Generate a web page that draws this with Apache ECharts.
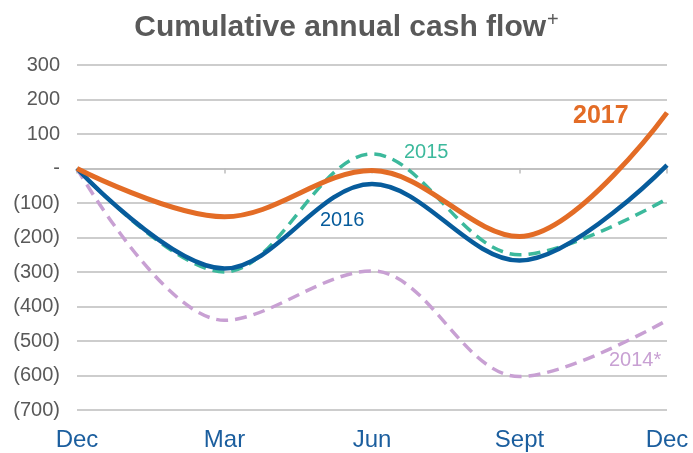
<!DOCTYPE html>
<html>
<head>
<meta charset="utf-8">
<script src="https://cdn.jsdelivr.net/npm/echarts@6/dist/echarts.min.js"></script>
<style>
html,body{margin:0;padding:0;background:#fff;}
#c{width:693px;height:453px;}
</style>
</head>
<body>
<div id="c"></div>
<script>
// Data
var categories = ['Dec', 'Mar', 'Jun', 'Sept', 'Dec'];
var cf2014 = [0, -440, -297, -603, -440];
var cf2015 = [0, -300, 42, -250, -88];
var cf2016 = [0, -290, -45, -267, 10];
var cf2017 = [0, -140, -6, -197, 162];
var yTicks = [300, 200, 100, 0, -100, -200, -300, -400, -500, -600, -700];

var FONT = 'Liberation Sans, Arial, sans-serif';
var chart = echarts.init(document.getElementById('c'), null, {renderer: 'canvas'});

function fmtY(v) {
  if (v === 0) return '-';
  if (v < 0) return '(' + Math.abs(v) + ')';
  return String(v);
}

var option = {
  backgroundColor: '#ffffff',
  animation: false,
  title: {
    text: '{a|Cumulative annual cash flow}{b|+}',
    left: 'center',
    top: 5,
    textStyle: {
      rich: {
        a: {fontFamily: FONT, fontWeight: 'bold', fontSize: 30, color: '#595959', lineHeight: 36},
        b: {fontFamily: FONT, fontWeight: 'normal', fontSize: 20, color: '#595959', verticalAlign: 'top', lineHeight: 36, padding: [0, 0, 12, 1]}
      }
    }
  },
  grid: {left: 77, right: 26, top: 65, bottom: 43, containLabel: false},
  xAxis: [{
    type: 'category',
    data: categories,
    boundaryGap: false,
    position: 'bottom',
    axisLine: {show: false, onZero: false},
    axisTick: {show: false},
    splitLine: {show: false},
    axisLabel: {fontFamily: FONT, fontSize: 24, color: '#1B5E9E', margin: 18}
  }, {
    type: 'category',
    data: categories,
    boundaryGap: false,
    position: 'bottom',
    axisLine: {show: true, onZero: true, lineStyle: {color: '#BDBDBD', width: 1.5}},
    axisTick: {show: true, length: 5, lineStyle: {color: '#BDBDBD', width: 1.5}},
    axisLabel: {show: false},
    splitLine: {show: false}
  }],
  yAxis: {
    type: 'value',
    min: -700,
    max: 300,
    interval: 100,
    axisLine: {show: false},
    axisTick: {show: false},
    splitLine: {show: true, lineStyle: {color: '#BDBDBD', width: 1.5}},
    axisLabel: {fontFamily: FONT, fontSize: 20, color: '#595959', margin: 17, formatter: fmtY}
  },
  series: [
    {name: '2014*', type: 'line', data: cf2014, smooth: 0.35, symbol: 'none',
     lineStyle: {color: '#C8A0D3', width: 3.5, type: [12, 7]}},
    {name: '2015', type: 'line', data: cf2015, smooth: 0.35, symbol: 'none',
     lineStyle: {color: '#3CB99C', width: 3.5, type: [12, 7]}},
    {name: '2016', type: 'line', data: cf2016, smooth: 0.35, symbol: 'none',
     lineStyle: {color: '#075C9C', width: 4.5}},
    {name: '2017', type: 'line', data: cf2017, smooth: 0.35, symbol: 'none',
     lineStyle: {color: '#E36C26', width: 5}}
  ],
  graphic: [
    {type: 'text', left: 573, top: 104, style: {text: '2017', font: 'bold 25px ' + FONT, fill: '#E36C26'}},
    {type: 'text', left: 320, top: 210, style: {text: '2016', font: '20px ' + FONT, fill: '#075C9C'}},
    {type: 'text', left: 404, top: 142, style: {text: '2015', font: '20px ' + FONT, fill: '#3CB99C'}},
    {type: 'text', left: 609, top: 350, style: {text: '2014*', font: '20px ' + FONT, fill: '#C8A0D3'}}
  ]
};
chart.setOption(option);
</script>
</body>
</html>
